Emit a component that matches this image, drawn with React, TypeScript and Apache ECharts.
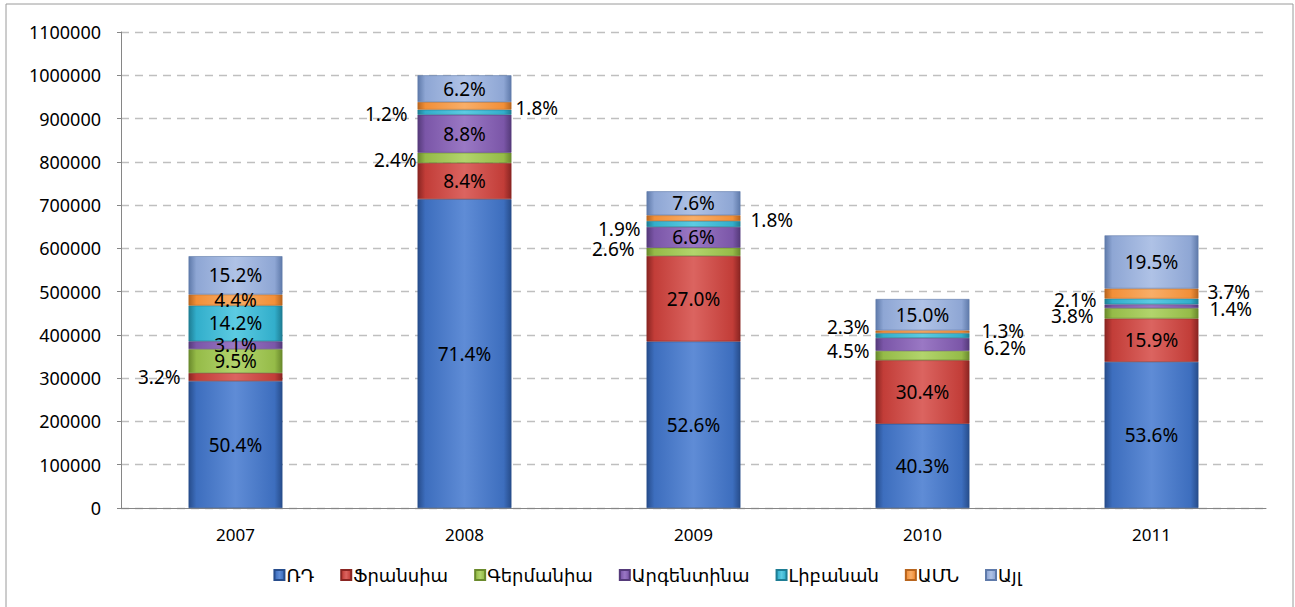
import React, { useEffect, useRef } from "react";
import * as echarts from "echarts";

const years = ["2007", "2008", "2009", "2010", "2011"];
const seriesNames = ["ՌԴ", "Ֆրանսիա", "Գերմանիա", "Արգենտինա", "Լիբանան", "ԱՄՆ", "Այլ"];
const russia = [293300, 713700, 384900, 194600, 337700];
const france = [18600, 83700, 197500, 146800, 100200];
const germany = [55300, 23700, 18900, 21700, 23900];
const argentina = [18000, 87700, 48200, 29900, 8800];
const lebanon = [82600, 11700, 13800, 11100, 13200];
const usa = [25600, 17700, 13100, 6300, 23300];
const other = [88500, 61700, 55500, 72500, 122900];
const yTicks = [0, 100000, 200000, 300000, 400000, 500000, 600000, 700000, 800000, 900000, 1000000, 1100000];

const seriesData = [russia, france, germany, argentina, lebanon, usa, other];
const baseColors = ["#3D6EBE", "#C23D38", "#95BB48", "#7B56A8", "#32AECB", "#F28F38", "#8EA6D4"];
const darkColors = ["#274D8C", "#8A2522", "#6A8A2C", "#553A7A", "#1E7D94", "#B8651E", "#5F7AAA"];
const lightColors = ["#5F8CD6", "#DB6460", "#B2D46C", "#9A78C4", "#5CCBE2", "#F8AE68", "#AFC2E6"];

// label placement overrides: key "series-yearIndex"
const labelOverrides: Record<string, any> = {
  "1-0": { position: "left", distance: 8, offset: [0, 0] },
  "2-1": { position: "left", distance: 1, offset: [0, 2] },
  "4-1": { position: "left", distance: 10, offset: [0, 2] },
  "5-1": { position: "right", distance: 4, offset: [0, 2] },
  "2-2": { position: "left", distance: 12, offset: [0, -3] },
  "4-2": { position: "left", distance: 6, offset: [0, 5] },
  "5-2": { position: "right", distance: 10, offset: [0, 2] },
  "2-3": { position: "left", distance: 6, offset: [0, -5] },
  "4-3": { position: "left", distance: 6, offset: [0, -9] },
  "5-3": { position: "right", distance: 12, offset: [0, -1] },
  "3-3": { position: "right", distance: 14, offset: [0, 4] },
  "2-4": { position: "left", distance: 11, offset: [0, 3] },
  "4-4": { position: "left", distance: 8, offset: [0, -2] },
  "5-4": { position: "right", distance: 9, offset: [0, -2] },
  "3-4": { position: "right", distance: 11, offset: [0, 3] },
};

const FONT = "'Noto Sans', 'DejaVu Sans', sans-serif";

export default function App() {
  const ref = useRef<HTMLDivElement>(null);
  useEffect(() => {
    if (!ref.current) return;
    const chart = echarts.init(ref.current, undefined, { renderer: "svg" });
    const totals = years.map((_, i) => seriesData.reduce((s, arr) => s + arr[i], 0));

    const series = seriesData.map((arr, s) => ({
      name: seriesNames[s],
      type: "bar",
      stack: "total",
      barWidth: "41%",
      itemStyle: {
        color: {
          type: "linear",
          x: 0,
          y: 0,
          x2: 1,
          y2: 0,
          colorStops: [
            { offset: 0, color: darkColors[s] },
            { offset: 0.08, color: baseColors[s] },
            { offset: 0.5, color: lightColors[s] },
            { offset: 0.92, color: baseColors[s] },
            { offset: 1, color: darkColors[s] },
          ],
        },
        borderColor: darkColors[s],
        borderWidth: 0.6,
      },
      label: {
        show: true,
        position: "inside",
        color: "#000",
        fontSize: 19,
        fontFamily: FONT,
        formatter: (p: any) => ((p.value / totals[p.dataIndex]) * 100).toFixed(1) + "%",
      },
      data: arr.map((v, i) => {
        const o = labelOverrides[`${s}-${i}`];
        return o ? { value: v, label: { ...o } } : { value: v };
      }),
    }));

    chart.setOption({
      animation: false,
      grid: { left: 121, right: 29, top: 32, bottom: 99, containLabel: false },
      xAxis: {
        type: "category",
        data: years,
        axisLine: { lineStyle: { color: "#868686" } },
        axisTick: { show: false },
        axisLabel: { color: "#000", fontSize: 17, fontFamily: FONT, margin: 18 },
      },
      yAxis: {
        type: "value",
        min: yTicks[0],
        max: yTicks[yTicks.length - 1],
        interval: yTicks[1] - yTicks[0],
        axisLine: { show: true, lineStyle: { color: "#868686" } },
        axisTick: { show: true, length: 4, lineStyle: { color: "#868686" } },
        axisLabel: {
          color: "#000",
          fontSize: 18,
          fontFamily: FONT,
          margin: 20,
          formatter: (v: number) => String(v),
        },
        splitLine: { lineStyle: { color: "#BFBFBF", type: [8, 6], width: 1.3 } },
      },
      legend: {
        data: seriesNames,
        bottom: 18,
        left: "center",
        itemWidth: 10,
        itemHeight: 10,
        itemGap: 26,
        icon: "rect",
        textStyle: { color: "#000", fontSize: 18, fontFamily: FONT, padding: [0, 0, 0, -3] },
      },
      graphic: [
        {
          type: "rect",
          shape: { x: 6, y: 4, width: 1287, height: 620 },
          style: { fill: "none", stroke: "#9A9A9A", lineWidth: 1 },
          silent: true,
          z: -1,
        },
      ],
      series,
    });
    return () => chart.dispose();
  }, []);
  return (
    <div
      ref={ref}
      style={{ position: "absolute", left: 0, top: 0, width: 1295, height: 607, background: "#fff" }}
    />
  );
}
